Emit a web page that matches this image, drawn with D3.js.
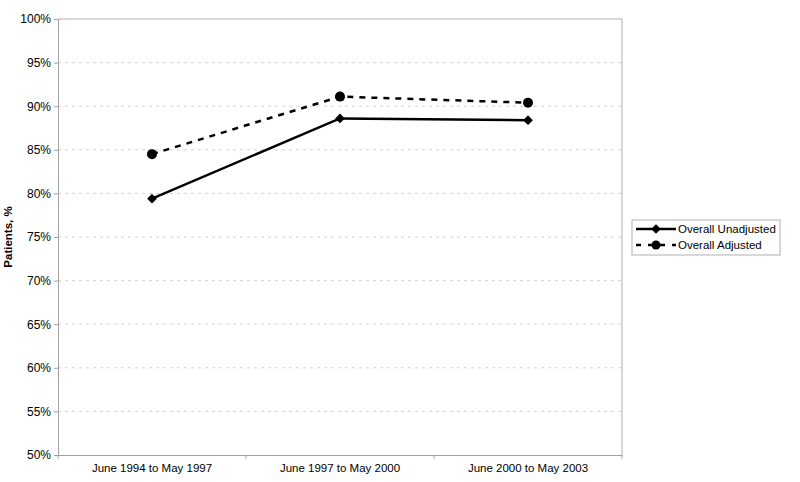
<!DOCTYPE html>
<html>
<head>
<meta charset="utf-8">
<script src="https://cdn.jsdelivr.net/npm/d3@7"></script>
<style>
  body { margin: 0; background: #fff; }
  text { font-family: "Liberation Sans", Arial, sans-serif; fill: #000; }
</style>
</head>
<body>
<div id="chart"></div>
<script>
var periods = ["June 1994 to May 1997", "June 1997 to May 2000", "June 2000 to May 2003"];
var unadjusted = [79.4, 88.6, 88.4];
var adjusted = [84.5, 91.1, 90.4];
var yTicks = [50, 55, 60, 65, 70, 75, 80, 85, 90, 95, 100];

var svgWidth = 800, svgHeight = 482;
var margin = { top: 19, right: 178, bottom: 27, left: 58 };
var width = svgWidth - margin.left - margin.right;
var height = svgHeight - margin.top - margin.bottom;

var svg = d3.select("#chart").append("svg")
    .attr("width", svgWidth)
    .attr("height", svgHeight);

var g = svg.append("g")
    .attr("transform", `translate(${margin.left}, ${margin.top})`);

var x = d3.scaleBand().domain(periods).range([0, width]);
var y = d3.scaleLinear().domain([50, 100]).range([height, 0]);

// gridlines
g.selectAll(".grid").data(yTicks.slice(1, -1)).enter().append("line")
    .attr("x1", 0).attr("x2", width)
    .attr("y1", d => y(d)).attr("y2", d => y(d))
    .attr("stroke", "#d2d2d2")
    .attr("stroke-dasharray", "3,4");

// frame (top and right)
g.append("path")
    .attr("d", `M0,0H${width}V${height}`)
    .attr("fill", "none")
    .attr("stroke", "#b0b0b0");

// y axis
var leftAxis = d3.axisLeft(y).tickValues(yTicks).tickFormat(d => d + "%").tickSize(4).tickPadding(3);
var ya = g.append("g").call(leftAxis);
ya.select(".domain").attr("stroke", "#a0a0a0");
ya.selectAll(".tick line").attr("stroke", "#a0a0a0");
ya.selectAll("text").style("font-size", "12px").attr("fill", "#000");

// x axis
var bottomAxis = d3.axisBottom(x).tickSize(0).tickPadding(9);
var xa = g.append("g").attr("transform", `translate(0, ${height})`).call(bottomAxis);
xa.select(".domain").attr("stroke", "#a0a0a0");
xa.selectAll("text").style("font-size", "11.5px").attr("fill", "#000");
// boundary ticks between categories
xa.selectAll(".bt").data(d3.range(periods.length + 1)).enter().append("line")
    .attr("x1", i => i * x.step()).attr("x2", i => i * x.step())
    .attr("y1", 0).attr("y2", 4)
    .attr("stroke", "#a0a0a0");

var cx = (d, i) => x(periods[i]) + x.bandwidth() / 2;

// adjusted series (dashed, circles)
var lineAdj = d3.line().x((d, i) => cx(d, i)).y(d => y(d));
g.append("path").datum(adjusted)
    .attr("d", lineAdj)
    .attr("fill", "none")
    .attr("stroke", "#000")
    .attr("stroke-width", 2.5)
    .attr("stroke-dasharray", "6,6");
g.selectAll(".adj").data(adjusted).enter().append("circle")
    .attr("cx", (d, i) => cx(d, i))
    .attr("cy", d => y(d))
    .attr("r", 5)
    .attr("fill", "#000");

// unadjusted series (solid, diamonds)
g.append("path").datum(unadjusted)
    .attr("d", lineAdj)
    .attr("fill", "none")
    .attr("stroke", "#000")
    .attr("stroke-width", 2.5);
var diamond = d3.symbol().type(d3.symbolDiamond2).size(60);
g.selectAll(".unadj").data(unadjusted).enter().append("path")
    .attr("d", diamond)
    .attr("transform", (d, i) => `translate(${cx(d, i)}, ${y(d)})`)
    .attr("fill", "#000");

// y label
svg.append("text")
    .attr("transform", `translate(12, ${margin.top + height / 2}) rotate(-90)`)
    .attr("text-anchor", "middle")
    .style("font-size", "11.5px")
    .style("font-weight", "bold")
    .text("Patients, %");

// legend
var lg = svg.append("g").attr("transform", "translate(632, 220)");
lg.append("rect").attr("width", 148).attr("height", 35)
    .attr("fill", "#fff").attr("stroke", "#b0b0b0");
lg.append("line").attr("x1", 4).attr("x2", 44).attr("y1", 9).attr("y2", 9)
    .attr("stroke", "#000").attr("stroke-width", 2.5);
lg.append("path").attr("d", diamond).attr("transform", "translate(24, 9)").attr("fill", "#000");
lg.append("line").attr("x1", 4).attr("x2", 44).attr("y1", 25).attr("y2", 25)
    .attr("stroke", "#000").attr("stroke-width", 2.5).attr("stroke-dasharray", "5,7");
lg.append("circle").attr("cx", 24).attr("cy", 25).attr("r", 4.5).attr("fill", "#000");
lg.append("text").attr("x", 46).attr("y", 13).style("font-size", "11.5px").text("Overall Unadjusted");
lg.append("text").attr("x", 46).attr("y", 29).style("font-size", "11.5px").text("Overall Adjusted");
</script>
</body>
</html>
